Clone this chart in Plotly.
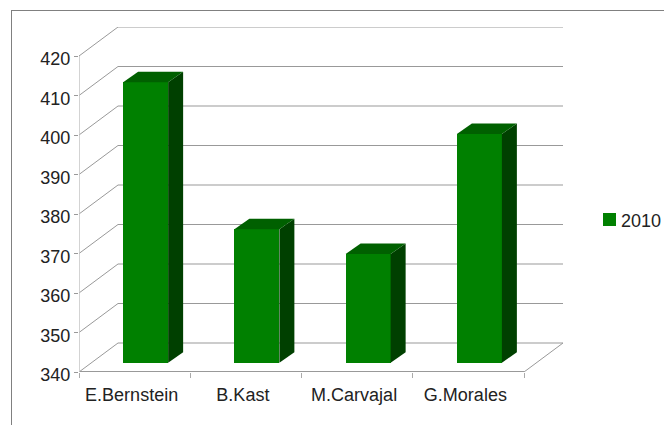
import plotly.graph_objects as go

categories = ["E.Bernstein", "B.Kast", "M.Carvajal", "G.Morales"]
values = [411, 373.8, 367.5, 397.9]
series_name = "2010"
y_ticks = [340, 350, 360, 370, 380, 390, 400, 410, 420]

W, H = 664, 425
L, R, T, B = 79, 563, 27, 372
PX_X = 111.25
PX_Y = 3.95
x_range = [-0.5, -0.5 + (R - L) / PX_X]
y_range = [340, 340 + (B - T) / PX_Y]
DX, DY = 39 / PX_X, 29 / PX_Y          # wall depth
OX, OY = 11 / PX_X, 9.3 / PX_Y         # bar-plane offset from front
SX, SY = 15 / PX_X, 10.5 / PX_Y        # bar depth
BW = 45 / PX_X
GRID = "#999999"
x_end = len(categories) - 0.5

fig = go.Figure()
idx = list(range(len(categories)))
fig.add_trace(go.Bar(x=[i + OX for i in idx], y=[v - 340 for v in values],
                     base=340 + OY, width=BW, marker=dict(color="#008000", line_width=0),
                     showlegend=False, name=series_name))
for i, v in zip(idx, values):
    x0, x1, top, bot = i + OX - BW / 2, i + OX + BW / 2, v + OY, 340 + OY
    fig.add_trace(go.Scatter(x=[x1, x1 + SX, x1 + SX, x1, x1], y=[bot, bot + SY, top + SY, top, bot],
                             mode="lines", fill="toself", fillcolor="#004000", line=dict(width=0),
                             hoverinfo="skip", showlegend=False))
    fig.add_trace(go.Scatter(x=[x0, x0 + SX, x1 + SX, x1, x0], y=[top, top + SY, top + SY, top, top],
                             mode="lines", fill="toself", fillcolor="#006000", line=dict(width=0),
                             hoverinfo="skip", showlegend=False))

shapes = []
for t in y_ticks:
    shapes.append(dict(type="path", layer="below",
                       path=f"M -0.5 {t} L {-0.5 + DX} {t + DY} L {x_end + DX} {t + DY}",
                       line=dict(color=GRID, width=1)))
# floor edges
shapes.append(dict(type="line", layer="below", x0=-0.5, x1=x_end, y0=340, y1=340,
                   line=dict(color="#999999", width=2)))
shapes.append(dict(type="line", layer="below", x0=x_end, x1=x_end + DX, y0=340, y1=340 + DY,
                   line=dict(color=GRID, width=1)))
shapes.append(dict(type="line", layer="below", x0=-0.5, x1=-0.5, y0=340, y1=420,
                   line=dict(color="#c4c4c4", width=1.5)))


def px(x):
    return (x - L) / (R - L)


def py(y):
    return (B - y) / (B - T)


# outer frame
shapes.append(dict(type="line", xref="paper", yref="paper", x0=px(11), x1=px(664), y0=py(10.5), y1=py(10.5),
                   line=dict(color="#808080", width=1)))
shapes.append(dict(type="line", xref="paper", yref="paper", x0=px(11.5), x1=px(11.5), y0=py(10), y1=py(425),
                   line=dict(color="#808080", width=1)))
# legend swatch
shapes.append(dict(type="rect", xref="paper", yref="paper", x0=px(603), x1=px(616), y0=py(213), y1=py(226),
                   fillcolor="#008000", line_width=0))

FONT = "Liberation Sans"
fig.update_layout(
    width=W, height=H, autosize=False,
    margin=dict(l=L, r=W - R, t=T, b=H - B, pad=0),
    paper_bgcolor="white", plot_bgcolor="white",
    showlegend=False, bargap=0, barmode="overlay",
    font=dict(family=FONT, size=18, color="#222222"),
    shapes=shapes,
    annotations=[dict(text=series_name, xref="paper", yref="paper", x=px(619), y=py(221),
                      xanchor="left", yanchor="middle", showarrow=False,
                      font=dict(family=FONT, size=18, color="#222222"))],
    xaxis=dict(range=x_range, tickmode="array", tickvals=idx, ticktext=categories,
               ticks="", showgrid=False, zeroline=False, showline=False,
               tickfont=dict(size=18), ticklabelstandoff=10, ticklabelshift=-3,
               minor=dict(tickmode="array", tickvals=[i - 0.5 for i in idx] + [x_end],
                          ticks="outside", ticklen=5, tickcolor="#aaaaaa", tickwidth=1, showgrid=False)),
    yaxis=dict(range=y_range, tickmode="array", tickvals=y_ticks,
               ticks="outside", ticklen=4, tickcolor="#999999", tickwidth=1, ticklabelshift=3,
               showgrid=False, zeroline=False, showline=False, tickfont=dict(size=18)),
)
fig.write_html("out.html", config={"displayModeBar": False},
               post_script="document.body.style.margin='0';document.body.style.overflow='hidden';")
